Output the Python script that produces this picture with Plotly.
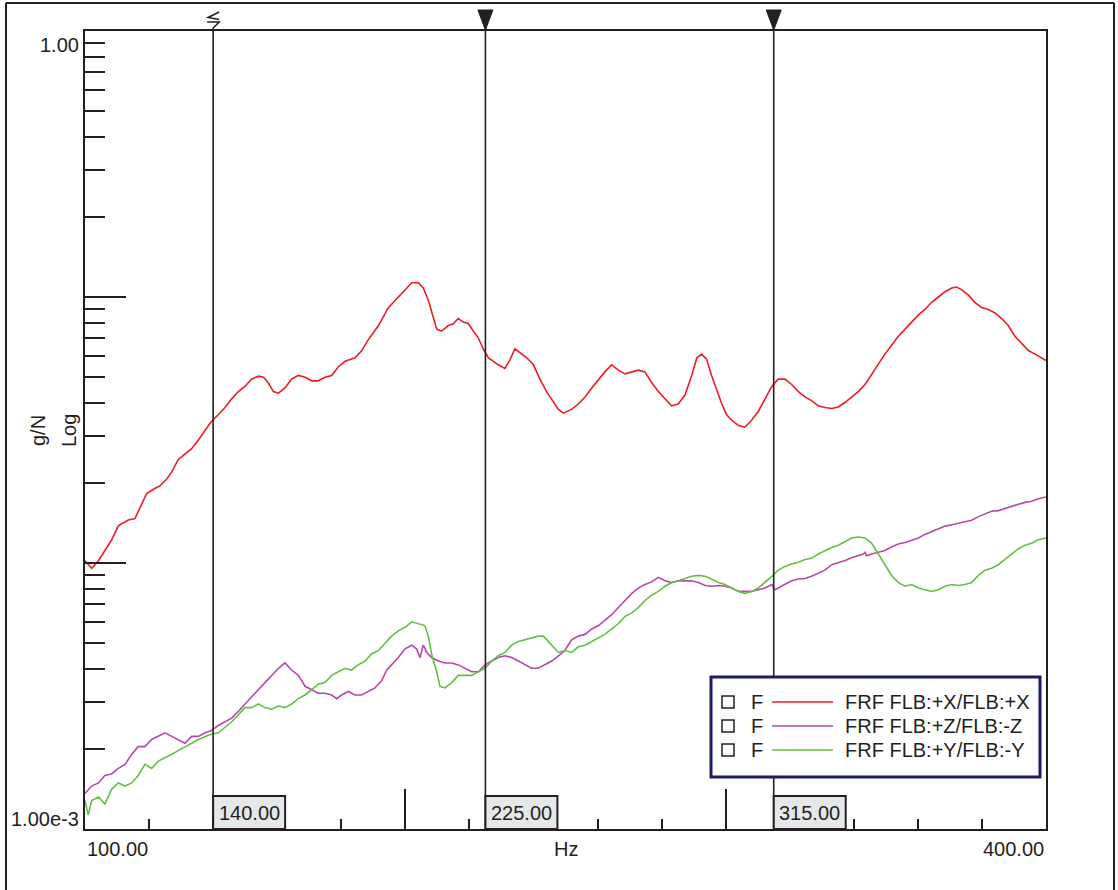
import plotly.graph_objects as go

# ---------------- data ----------------
red_f = [100.0, 102.1, 104.2, 106.2, 108.3, 110.4, 113.5, 115.6, 117.2, 119.3, 121.9, 123.4, 125.5, 127.1,
         129.1, 131.2, 133.3, 135.4, 137.5, 139.3, 141.6, 143.7, 145.8, 147.9, 149.9, 152.0, 154.1, 155.7,
         157.2, 158.8, 160.4, 162.4, 164.5, 166.6, 168.7, 170.8, 172.8, 174.9, 177.0, 179.1, 181.2, 184.3,
         186.4, 188.4, 191.6, 194.7, 196.8, 199.9, 202.0, 204.1, 205.6, 207.2, 208.2, 209.8, 211.3, 213.4,
         215.0, 216.5, 218.1, 219.7, 221.2, 222.8, 224.3, 225.9, 227.5, 229.0, 231.1, 232.7, 234.2, 235.8,
         237.9, 240.0, 242.0, 244.1, 246.2, 247.8, 249.3, 251.9, 254.0, 256.1, 258.2, 260.3, 262.3, 264.4,
         266.5, 268.6, 270.7, 272.7, 274.8, 276.9, 279.0, 281.1, 283.1, 285.2, 287.3, 289.4, 291.0, 292.5,
         294.1, 295.6, 297.2, 298.8, 300.3, 301.9, 304.0, 306.0, 308.1, 310.2, 312.3, 314.4, 316.4, 318.5,
         320.6, 322.7, 324.8, 326.8, 328.9, 331.0, 333.1, 335.2, 337.3, 339.3, 341.4, 343.5, 345.6, 347.7,
         349.7, 351.8, 353.9, 356.0, 358.1, 360.2, 362.2, 364.3, 366.4, 368.5, 370.6, 372.1, 373.7, 375.8,
         377.8, 379.9, 382.0, 384.1, 386.2, 388.2, 390.3, 392.4, 394.5, 396.6, 398.7, 400.0]
red_v = [0.0102, 0.00955, 0.0102, 0.0111, 0.0122, 0.0138, 0.0145, 0.0147, 0.0162, 0.0183, 0.0191, 0.0195,
         0.0207, 0.0220, 0.0245, 0.0257, 0.0269, 0.0290, 0.0314, 0.0339, 0.0361, 0.0384, 0.0414, 0.0441,
         0.0461, 0.0491, 0.0504, 0.0499, 0.0476, 0.0441, 0.0435, 0.0455, 0.0491, 0.0507, 0.0499, 0.0484,
         0.0484, 0.0499, 0.0507, 0.0547, 0.0573, 0.0591, 0.0629, 0.0690, 0.0781, 0.0912, 0.0970, 0.1064,
         0.1132, 0.1132, 0.1081, 0.0970, 0.0883, 0.0757, 0.0745, 0.0781, 0.0793, 0.0830, 0.0805, 0.0793,
         0.0745, 0.0701, 0.0639, 0.0591, 0.0573, 0.0556, 0.0539, 0.0582, 0.0639, 0.0619, 0.0591, 0.0556,
         0.0491, 0.0441, 0.0402, 0.0378, 0.0366, 0.0378, 0.0396, 0.0421, 0.0455, 0.0491, 0.0523, 0.0556,
         0.0531, 0.0514, 0.0523, 0.0531, 0.0523, 0.0476, 0.0441, 0.0414, 0.0390, 0.0396, 0.0428, 0.0507,
         0.0591, 0.0610, 0.0582, 0.0507, 0.0448, 0.0396, 0.0361, 0.0344, 0.0329, 0.0324, 0.0344, 0.0372,
         0.0414, 0.0461, 0.0491, 0.0491, 0.0469, 0.0441, 0.0421, 0.0408, 0.0390, 0.0384, 0.0381, 0.0386,
         0.0402, 0.0421, 0.0441, 0.0469, 0.0514, 0.0565, 0.0610, 0.0659, 0.0712, 0.0757, 0.0805, 0.0857,
         0.0898, 0.0955, 0.1000, 0.1047, 0.1081, 0.1090, 0.1064, 0.1016, 0.0955, 0.0912, 0.0898, 0.0871,
         0.0830, 0.0781, 0.0712, 0.0670, 0.0629, 0.0610, 0.0591, 0.0577]

mag_f = [100.0, 102.1, 104.2, 106.2, 108.3, 110.4, 112.5, 114.6, 116.6, 118.7, 120.8, 122.9, 125.0, 127.1,
         129.1, 131.2, 133.3, 135.4, 137.5, 139.3, 141.6, 143.7, 145.8, 147.9, 149.9, 152.0, 154.1, 156.2,
         158.3, 160.4, 162.4, 164.5, 166.6, 168.7, 170.8, 172.8, 174.9, 177.0, 178.6, 180.1, 182.2, 184.3,
         186.4, 188.4, 190.5, 192.6, 194.2, 195.7, 197.8, 199.9, 202.0, 203.5, 204.6, 205.6, 206.7, 208.2,
         210.3, 212.4, 214.5, 216.5, 218.6, 220.7, 222.8, 224.9, 227.0, 229.0, 231.1, 233.2, 235.3, 237.4,
         239.4, 241.5, 243.6, 245.7, 247.8, 249.8, 251.9, 254.0, 256.1, 258.2, 260.3, 262.3, 264.4, 266.5,
         268.6, 270.7, 272.7, 274.8, 276.9, 279.0, 281.1, 283.1, 285.2, 287.3, 289.4, 291.5, 293.6, 295.6,
         297.7, 299.8, 301.9, 304.0, 306.0, 308.1, 310.2, 312.3, 314.4, 315.4, 316.4, 318.5, 320.6, 322.7,
         324.8, 326.8, 328.9, 331.0, 333.1, 335.2, 337.3, 339.3, 341.4, 343.0, 343.5, 344.0, 345.6, 347.7,
         349.7, 351.8, 353.9, 356.0, 358.1, 360.2, 362.2, 364.3, 366.4, 368.5, 370.6, 372.7, 374.7, 376.8,
         378.9, 381.0, 383.0, 385.1, 387.2, 389.3, 391.4, 393.5, 395.5, 397.6, 400.0]
mag_v = [0.00136, 0.00145, 0.00149, 0.00159, 0.00161, 0.00169, 0.00175, 0.00191, 0.00204, 0.00204, 0.00217,
         0.00223, 0.00230, 0.00223, 0.00217, 0.00210, 0.00223, 0.00223, 0.00230, 0.00234, 0.00245, 0.00253,
         0.00261, 0.00277, 0.00295, 0.00314, 0.00334, 0.00355, 0.00378, 0.00402, 0.00421, 0.00396, 0.00378,
         0.00344, 0.00334, 0.00324, 0.00324, 0.00319, 0.00309, 0.00319, 0.00329, 0.00319, 0.00319, 0.00329,
         0.00339, 0.00361, 0.00396, 0.00414, 0.00441, 0.00476, 0.00491, 0.00476, 0.00441, 0.00491, 0.00461,
         0.00441, 0.00428, 0.00421, 0.00421, 0.00414, 0.00402, 0.00390, 0.00390, 0.00414, 0.00428, 0.00441,
         0.00448, 0.00441, 0.00428, 0.00414, 0.00402, 0.00402, 0.00414, 0.00428, 0.00448, 0.00469, 0.00514,
         0.00531, 0.00539, 0.00565, 0.00582, 0.00610, 0.00639, 0.00680, 0.00723, 0.00769, 0.00805, 0.00830,
         0.00849, 0.00883, 0.00857, 0.00844, 0.00857, 0.00857, 0.00857, 0.00844, 0.00823, 0.00818, 0.00823,
         0.00818, 0.00805, 0.00782, 0.00782, 0.00782, 0.00793, 0.00805, 0.00830, 0.00793, 0.00805, 0.00830,
         0.00857, 0.00871, 0.00875, 0.00891, 0.00912, 0.00940, 0.00985, 0.01000, 0.01021, 0.01047, 0.01064,
         0.01081, 0.01097, 0.01064, 0.01081, 0.01097, 0.01114, 0.01148, 0.01178, 0.01194, 0.01222, 0.01242,
         0.01281, 0.01309, 0.01343, 0.01376, 0.01393, 0.01413, 0.01427, 0.01449, 0.01494, 0.01531, 0.01566,
         0.01574, 0.01603, 0.01641, 0.01664, 0.01690, 0.01706, 0.01745, 0.01770]

grn_f = [100.0, 101.0, 102.1, 104.2, 106.2, 108.3, 110.4, 112.5, 114.6, 116.6, 118.7, 120.8, 122.9, 125.0,
         127.1, 129.1, 131.2, 133.3, 135.4, 137.5, 139.3, 141.6, 143.7, 145.8, 147.9, 149.9, 152.0, 154.1,
         156.2, 158.3, 160.4, 162.4, 164.5, 166.6, 168.7, 170.8, 172.8, 174.9, 177.0, 179.1, 181.2, 183.2,
         185.3, 187.4, 189.5, 191.6, 193.7, 195.7, 197.8, 199.9, 202.0, 204.1, 206.1, 207.2, 208.2, 209.8,
         210.8, 212.4, 214.5, 216.5, 218.6, 220.7, 222.8, 224.9, 227.0, 229.0, 231.1, 233.2, 235.3, 237.4,
         239.4, 241.5, 243.1, 244.6, 246.2, 247.8, 249.8, 251.9, 254.0, 256.1, 258.2, 260.3, 262.3, 264.4,
         266.5, 268.6, 270.7, 272.7, 274.8, 276.9, 279.0, 281.1, 283.1, 285.2, 287.3, 289.4, 291.5, 293.6,
         295.6, 297.7, 299.8, 301.9, 304.0, 306.0, 308.1, 310.2, 312.3, 314.4, 316.4, 318.5, 320.6, 322.7,
         324.8, 326.8, 328.9, 331.0, 333.1, 335.2, 337.3, 339.3, 341.4, 343.5, 345.6, 347.7, 349.7, 351.8,
         353.9, 356.0, 358.1, 360.2, 362.2, 364.3, 366.4, 368.5, 370.6, 372.7, 374.7, 376.8, 378.9, 381.0,
         383.0, 385.1, 387.2, 389.3, 391.4, 393.5, 395.5, 397.6, 400.0]
grn_v = [0.00128, 0.00113, 0.00128, 0.00132, 0.00124, 0.00141, 0.00149, 0.00145, 0.00149, 0.00159, 0.00175,
         0.00169, 0.00180, 0.00185, 0.00191, 0.00197, 0.00204, 0.00210, 0.00217, 0.00223, 0.00227, 0.00230,
         0.00241, 0.00253, 0.00269, 0.00286, 0.00286, 0.00295, 0.00286, 0.00282, 0.00290, 0.00286, 0.00295,
         0.00309, 0.00319, 0.00334, 0.00350, 0.00355, 0.00378, 0.00390, 0.00402, 0.00396, 0.00414, 0.00428,
         0.00455, 0.00469, 0.00499, 0.00531, 0.00556, 0.00573, 0.00601, 0.00591, 0.00582, 0.00531, 0.00455,
         0.00390, 0.00344, 0.00339, 0.00355, 0.00378, 0.00378, 0.00378, 0.00390, 0.00402, 0.00428, 0.00448,
         0.00461, 0.00491, 0.00507, 0.00514, 0.00523, 0.00531, 0.00531, 0.00507, 0.00484, 0.00461, 0.00469,
         0.00461, 0.00484, 0.00491, 0.00507, 0.00523, 0.00539, 0.00565, 0.00591, 0.00630, 0.00649, 0.00680,
         0.00723, 0.00757, 0.00782, 0.00818, 0.00844, 0.00857, 0.00875, 0.00891, 0.00898, 0.00891, 0.00871,
         0.00844, 0.00830, 0.00805, 0.00782, 0.00769, 0.00782, 0.00805, 0.00844, 0.00891, 0.00940, 0.00970,
         0.00991, 0.01007, 0.01031, 0.01041, 0.01081, 0.01114, 0.01143, 0.01167, 0.01205, 0.01242, 0.01253,
         0.01242, 0.01186, 0.01081, 0.00985, 0.00898, 0.00844, 0.00818, 0.00830, 0.00805, 0.00793, 0.00782,
         0.00793, 0.00818, 0.00830, 0.00823, 0.00830, 0.00844, 0.00898, 0.00940, 0.00955, 0.00985, 0.01031,
         0.01081, 0.01132, 0.01167, 0.01186, 0.01222, 0.01242]

series_names = ["FRF FLB:+X/FLB:+X", "FRF FLB:+Z/FLB:-Z", "FRF FLB:+Y/FLB:-Y"]
series_colors = ["#ee1c25", "#b44aa6", "#66bf45"]
cursor_positions = [140.0, 225.0, 315.0]
cursor_labels = ["140.00", "225.00", "315.00"]
x_range = [100.0, 400.0]
x_major_ticks = [200, 300]
x_minor_ticks = [120, 140, 160, 180, 220, 240, 260, 280, 320, 340, 360, 380]
y_major_ticks = [0.001, 0.01, 0.1, 1.0]
y_minor_ticks = [m * d for d in (0.001, 0.01, 0.1) for m in range(2, 10)]
x_end_labels = ["100.00", "400.00"]
y_end_labels = ["1.00", "1.00e-3"]

# ---------------- layout geometry ----------------
W, H = 1118, 890
L, R, T, B = 85, 1046, 31, 829
INK = "#231f20"
FONT = "Liberation Sans, Arial, sans-serif"
FS = 20


def px2x(px):
    return x_range[0] + (px - L) * (x_range[1] - x_range[0]) / (R - L)


def py2y(py):
    return (B - py) / (B - T)


def dx(npx):
    return npx * (x_range[1] - x_range[0]) / (R - L)


def pxp(px):
    return (px - L) / (R - L)


fig = go.Figure()
for f, v, name, col in zip([red_f, mag_f, grn_f], [red_v, mag_v, grn_v], series_names, series_colors):
    fig.add_trace(go.Scatter(x=f, y=v, mode="lines", name=name, showlegend=False,
                             line=dict(color=col, width=1.6)))

shapes = []
annotations = []

# outer frame
for (x0, y0, x1, y1) in [(6, 3, 6, H + 5), (6, 3, 1114, 3), (1114, 3, 1114, H + 5)]:
    shapes.append(dict(type="line", xref="paper", yref="paper", x0=pxp(x0), x1=pxp(x1),
                       y0=py2y(y0), y1=py2y(y1), line=dict(color=INK, width=2), layer="above"))

# cursors
for i, (c, lab) in enumerate(zip(cursor_positions, cursor_labels)):
    shapes.append(dict(type="line", xref="x", yref="paper", x0=c, x1=c, y0=0, y1=py2y(28),
                       line=dict(color=INK, width=1.6), layer="above"))
    shapes.append(dict(type="rect", xref="x", yref="paper", x0=c, x1=c + dx(72), y0=0, y1=py2y(796),
                       fillcolor="#e6e7e8", line=dict(color=INK, width=2), layer="above"))
    annotations.append(dict(x=c + dx(36), y=py2y(812.5), xref="x", yref="paper", text=lab,
                            showarrow=False, font=dict(family=FONT, size=FS, color=INK),
                            xanchor="center", yanchor="middle"))
    if i == 0:
        # harmonic/sideband cursor glyph
        p = (f"M {c + dx(6)},{py2y(12)} L {c - dx(5)},{py2y(17.5)} L {c + dx(6)},{py2y(19.5)} "
             f"M {c - dx(6)},{py2y(22)} L {c + dx(6)},{py2y(22)} L {c},{py2y(28)}")
        shapes.append(dict(type="path", xref="x", yref="paper", path=p,
                           line=dict(color=INK, width=1.6), layer="above"))
    else:
        p = f"M {c - dx(7.5)},{py2y(10)} L {c + dx(7.5)},{py2y(10)} L {c},{py2y(30)} Z"
        shapes.append(dict(type="path", xref="x", yref="paper", path=p, fillcolor=INK,
                           line=dict(color=INK, width=1), layer="above"))

# legend box
lx0, lx1, ly0, ly1 = 711, 1040, 677, 777
shapes.append(dict(type="rect", xref="paper", yref="paper", x0=pxp(lx0), x1=pxp(lx1),
                   y0=py2y(ly1), y1=py2y(ly0), fillcolor="white",
                   line=dict(color="#1c1c66", width=3), layer="above"))
rows = [702, 726, 750]
for ry, name, col in zip(rows, series_names, series_colors):
    shapes.append(dict(type="rect", xref="paper", yref="paper", x0=pxp(722), x1=pxp(734),
                       y0=py2y(ry + 6), y1=py2y(ry - 6), line=dict(color=INK, width=1.5),
                       fillcolor="white", layer="above"))
    annotations.append(dict(x=pxp(749), y=py2y(ry), xref="paper", yref="paper", text="F",
                            showarrow=False, font=dict(family=FONT, size=FS, color=INK),
                            xanchor="left", yanchor="middle"))
    shapes.append(dict(type="line", xref="paper", yref="paper", x0=pxp(772), x1=pxp(833),
                       y0=py2y(ry), y1=py2y(ry), line=dict(color=col, width=1.6), layer="above"))
    annotations.append(dict(x=pxp(843), y=py2y(ry), xref="paper", yref="paper", text=name,
                            showarrow=False, font=dict(family=FONT, size=FS, color=INK),
                            xanchor="left", yanchor="middle"))

# axis end labels and titles
annotations += [
    dict(x=x_range[0], y=py2y(849), xref="x", yref="paper", text=x_end_labels[0], showarrow=False,
         xanchor="left", yanchor="middle", font=dict(family=FONT, size=FS, color=INK)),
    dict(x=x_range[1], y=py2y(849), xref="x", yref="paper", text=x_end_labels[1], showarrow=False,
         xanchor="right", yanchor="middle", font=dict(family=FONT, size=FS, color=INK)),
    dict(x=0.5, y=py2y(849), xref="paper", yref="paper", text="Hz", showarrow=False,
         xanchor="center", yanchor="middle", font=dict(family=FONT, size=FS, color=INK)),
    dict(x=pxp(81), y=py2y(45), xref="paper", yref="paper", text=y_end_labels[0], showarrow=False,
         xanchor="right", yanchor="middle", font=dict(family=FONT, size=FS, color=INK)),
    dict(x=pxp(81), y=py2y(819), xref="paper", yref="paper", text=y_end_labels[1], showarrow=False,
         xanchor="right", yanchor="middle", font=dict(family=FONT, size=FS, color=INK)),
    dict(x=pxp(38), y=py2y(431), xref="paper", yref="paper", text="g/N", showarrow=False, textangle=-90,
         xanchor="center", yanchor="middle", font=dict(family=FONT, size=FS, color=INK)),
    dict(x=pxp(69), y=py2y(431), xref="paper", yref="paper", text="Log", showarrow=False, textangle=-90,
         xanchor="center", yanchor="middle", font=dict(family=FONT, size=FS, color=INK)),
]

fig.update_layout(
    width=W, height=H,
    margin=dict(l=L, r=W - R, t=T, b=H - B, pad=0),
    paper_bgcolor="white", plot_bgcolor="white",
    showlegend=False,
    shapes=shapes, annotations=annotations,
    font=dict(family=FONT, size=FS, color=INK),
)
fig.update_xaxes(
    range=x_range, showgrid=False, zeroline=False, showline=True, mirror=True,
    linecolor=INK, linewidth=2, ticks="inside", tickvals=x_major_ticks, ticklen=40,
    tickwidth=1.6, tickcolor=INK, showticklabels=False,
    minor=dict(ticks="inside", tickvals=x_minor_ticks, ticklen=10, tickwidth=1.6,
               tickcolor=INK, showgrid=False),
)
fig.update_yaxes(
    type="log", range=[-3, 0], showgrid=False, zeroline=False, showline=True, mirror=True,
    linecolor=INK, linewidth=2, ticks="inside", tickvals=y_major_ticks, ticklen=41,
    tickwidth=2, tickcolor=INK, showticklabels=False,
    minor=dict(ticks="inside", tickvals=y_minor_ticks, ticklen=20, tickwidth=2,
               tickcolor=INK, showgrid=False),
)

fig.write_html("out.html")
